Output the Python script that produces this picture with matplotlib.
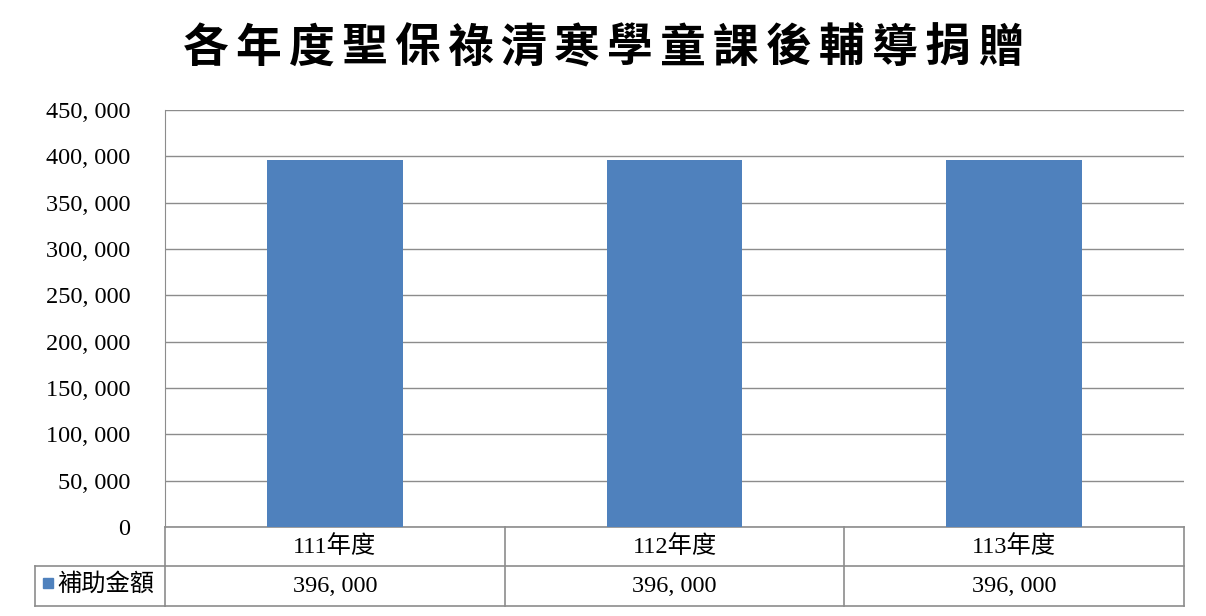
import matplotlib
matplotlib.use('Agg')
import matplotlib.pyplot as plt
import matplotlib.transforms as mtransforms
from matplotlib.ticker import FuncFormatter

# Данные
title = '各年度聖保祿清寒學童課後輔導捐贈'
years = ['111年度', '112年度', '113年度']
amounts = [396000, 396000, 396000]
series_name = '補助金額'
y_ticks = [0, 50000, 100000, 150000, 200000, 250000, 300000, 350000, 400000, 450000]

bar_color = '#4F81BD'
line_color = '#8c8c8c'
fonts = ['Liberation Serif', 'Noto Sans CJK TC']


def fmt(v):
    # запятая с пробелом, как в оригинале
    return f'{int(v):,}'.replace(',', ', ')


fig = plt.figure(figsize=(12.06, 6.16), dpi=100)
W, H = 1206, 616
ax = fig.add_axes([165 / W, 1 - 527 / H, (1184 - 165) / W, (527 - 110) / H])

x = list(range(len(years)))
ax.bar(x, amounts, width=0.4, color=bar_color, zorder=3)
ax.set_xlim(-0.5, len(years) - 0.5)
ax.set_ylim(0, 450000)
ax.set_yticks(y_ticks)
ax.yaxis.set_major_formatter(FuncFormatter(lambda v, p: fmt(v)))
ax.set_xticks([])
ax.tick_params(axis='y', length=0, pad=25, labelsize=17.5)
for lab in ax.get_yticklabels():
    lab.set_family(fonts)
ax.grid(axis='y', color=line_color, linewidth=1, zorder=0)
for s in ['top', 'right', 'bottom']:
    ax.spines[s].set_visible(False)
ax.spines['left'].set_color(line_color)

# таблица данных под графиком
tr = mtransforms.blended_transform_factory(ax.transData, ax.transAxes)
ax_h = 527 - 110
r1 = -39 / ax_h
r2 = -79 / ax_h
lw = 1.2
for xb in [-0.5, 0.5, 1.5, 2.5]:
    ax.plot([xb, xb], [0, r2], transform=tr, color=line_color, lw=lw, clip_on=False)
ax.plot([-0.5, 2.5], [0, 0], transform=tr, color=line_color, lw=lw, clip_on=False)
ax.plot([-0.5, 2.5], [r1, r1], transform=tr, color=line_color, lw=lw, clip_on=False)
ax.plot([-0.5, 2.5], [r2, r2], transform=tr, color=line_color, lw=lw, clip_on=False)

# ячейка легенды
lx0 = (35 - 165) / (1184 - 165)
ax.plot([lx0, 0], [r1, r1], transform=ax.transAxes, color=line_color, lw=lw, clip_on=False)
ax.plot([lx0, 0], [r2, r2], transform=ax.transAxes, color=line_color, lw=lw, clip_on=False)
ax.plot([lx0, lx0], [r1, r2], transform=ax.transAxes, color=line_color, lw=lw, clip_on=False)

for i, (yr, v) in enumerate(zip(years, amounts)):
    ax.text(i, r1 / 2, yr, transform=tr, ha='center', va='center', fontsize=17.5, family=fonts)
    ax.text(i, (r1 + r2) / 2, fmt(v), transform=tr, ha='center', va='center', fontsize=17.5, family=fonts)

fig.patches.append(plt.Rectangle((43 / W, 1 - 588 / H), 10 / W, 10 / H,
                                 transform=fig.transFigure, color=bar_color))
fig.text(57 / W, 1 - 584 / H, series_name, ha='left', va='center', fontsize=17.5, family=fonts)

# заголовок с разрядкой
pitch = 53
start = 603 - pitch * (len(title) - 1) / 2
for k, ch in enumerate(title):
    fig.text((start + k * pitch) / W, 1 - 50 / H, ch, ha='center', va='center',
             fontsize=33, fontweight='bold', family=fonts)

fig.savefig('out.png', dpi=100)
